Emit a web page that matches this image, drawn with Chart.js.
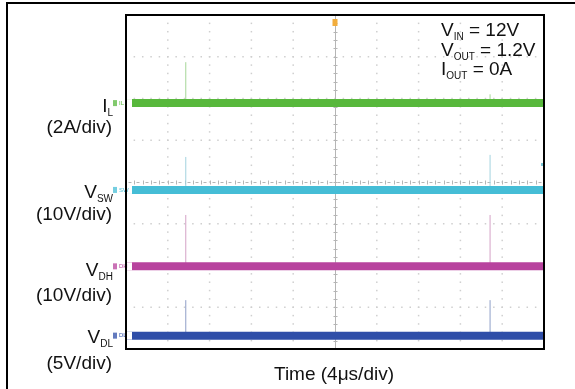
<!DOCTYPE html>
<html><head><meta charset="utf-8">
<script src="https://cdn.jsdelivr.net/npm/chart.js@4"></script>
<style>
html,body{margin:0;padding:0;background:#fff;}
#wrap{position:relative;width:575px;height:389px;overflow:hidden;font-family:"Liberation Sans",Arial,sans-serif;color:#111;}
#frameL{position:absolute;left:6px;top:2px;width:2px;height:400px;background:#000}
#frameT{position:absolute;left:6px;top:2px;width:580px;height:2px;background:#000}
canvas{position:absolute;left:0;top:0}
.lab{position:absolute;font-size:19px;line-height:19px;white-space:nowrap}
.r{text-align:right;right:462px}
.sub{font-size:10px;position:relative;top:4px}
</style></head>
<body>
<div id="wrap">
<canvas id="c" width="575" height="389"></canvas>
<div id="frameL"></div><div id="frameT"></div>
<div class="lab r" style="top:96px">I<span class="sub">L</span></div>
<div class="lab r" style="top:117px;right:463px">(2A/div)</div>
<div class="lab r" style="top:182px">V<span class="sub">SW</span></div>
<div class="lab r" style="top:204px;right:463px">(10V/div)</div>
<div class="lab r" style="top:260px">V<span class="sub">DH</span></div>
<div class="lab r" style="top:285px;right:463px">(10V/div)</div>
<div class="lab r" style="top:327px">V<span class="sub">DL</span></div>
<div class="lab r" style="top:353px;right:463px">(5V/div)</div>
<div class="lab" style="top:20px;left:441px">V<span class="sub">IN</span> = 12V</div>
<div class="lab" style="top:40px;left:441px">V<span class="sub">OUT</span> = 1.2V</div>
<div class="lab" style="top:59px;left:441px">I<span class="sub">OUT</span> = 0A</div>
<div class="lab" style="top:364px;left:334px;transform:translateX(-50%)">Time (4μs/div)</div>
</div>
<script>
// Time axis: 10 divisions; vertical: 8 divisions
const timeRange = [0, 10];
const divRange = [0, 8];
const channelTags = ['1 IL', '2 SW', '3 DH', '4 DL'];
const traceLevels = [5.89, 3.81, 1.98, 0.32];     // baseline level of each trace (div)
const spikeTimes = [1.43, 8.71];                   // time of switching spikes (div)
const spikeTopsIL = [6.87, 6.10];
const spikeTopsSW = [4.60, 4.65];
const spikeTopsDH = [3.21, 3.21];
const spikeTopsDL = [1.17, 1.17];
const triggerTime = 5.0;

const traceColors = ['#58b83c', '#45bdd6', '#b8439e', '#2f4ea8'];
const spikeColors = ['#a6d698', '#a3d3df', '#d4a2c6', '#8f9fc8'];
const allSpikeTops = [spikeTopsIL, spikeTopsSW, spikeTopsDH, spikeTopsDL];

const datasets = [];
traceLevels.forEach((lv, i) => {
  const pts = [];
  spikeTimes.forEach((t, k) => {
    pts.push({x: t, y: lv}, {x: t, y: allSpikeTops[i][k]}, {x: t, y: null});
  });
  datasets.push({data: pts, showLine: true, borderColor: spikeColors[i], borderWidth: 1,
    pointRadius: 0, spanGaps: false, order: 2});
});
traceLevels.forEach((lv, i) => {
  datasets.push({data: [{x: timeRange[0], y: lv}, {x: timeRange[1], y: lv}], showLine: true,
    borderColor: traceColors[i], borderWidth: 8, pointRadius: 0, order: 1});
});

const scopePlugin = {
  id: 'scope',
  beforeDatasetsDraw(chart) {
    const {ctx, chartArea: a, scales: {x, y}} = chart;
    ctx.save();
    ctx.fillStyle = '#cfcfcf';
    // dotted grid lines
    for (let i = 1; i < 10; i++) {
      if (i === 5) continue;
      const px = x.getPixelForValue(i);
      for (let j = 0; j <= 40; j++) {
        const py = y.getPixelForValue(j / 5);
        ctx.fillRect(px - 0.75, py - 0.75, 1.5, 1.5);
      }
    }
    for (let j = 1; j < 8; j++) {
      if (j === 4) continue;
      const py = y.getPixelForValue(j);
      for (let i = 0; i <= 50; i++) {
        const px = x.getPixelForValue(i / 5);
        ctx.fillRect(px - 0.75, py - 0.75, 1.5, 1.5);
      }
    }
    // center crosshair with minor ticks
    ctx.strokeStyle = '#b5b5b5';
    ctx.lineWidth = 1;
    const cx = Math.round(x.getPixelForValue(5)) + 0.5;
    const cy = Math.round(y.getPixelForValue(4)) + 0.5;
    ctx.beginPath();
    ctx.moveTo(cx, a.top); ctx.lineTo(cx, a.bottom);
    ctx.stroke();
    ctx.beginPath();
    for (let i = 0; i <= 50; i++) {
      const px = Math.round(x.getPixelForValue(i / 5)) + 0.5;
      ctx.moveTo(px, cy - 2); ctx.lineTo(px, cy + 2);
      if (i < 50) { ctx.moveTo(px + 2, cy); ctx.lineTo(px + 5, cy); }
    }
    for (let j = 0; j <= 40; j++) {
      const py = Math.round(y.getPixelForValue(j / 5)) + 0.5;
      ctx.moveTo(cx - 2, py); ctx.lineTo(cx + 2, py);
    }
    ctx.stroke();
    ctx.restore();
  },
  afterDatasetsDraw(chart) {
    const {ctx, chartArea: a, scales: {x, y}} = chart;
    ctx.save();
    // channel tags
    ctx.font = '6px "Liberation Sans", Arial';
    ctx.textBaseline = 'middle';
    traceLevels.forEach((lv, i) => {
      const py = y.getPixelForValue(lv);
      ctx.fillStyle = '#ffffff';
      ctx.fillRect(113, py - 4, 19, 8);
      ctx.fillStyle = traceColors[i];
      ctx.globalAlpha = 0.75;
      ctx.fillRect(113, py - 3, 4, 6);
      ctx.globalAlpha = 1;
      ctx.fillText(channelTags[i].split(' ')[1], 119, py);
    });
    // trigger marker
    const tx = x.getPixelForValue(triggerTime);
    ctx.fillStyle = '#f2ad3c';
    ctx.fillRect(tx - 2.5, a.top + 4, 5, 7);
    // right edge marker
    ctx.fillStyle = '#7cc8d8';
    ctx.fillRect(a.right - 3, 163, 2, 3);
    // plot frame
    ctx.strokeStyle = '#000';
    ctx.lineWidth = 2;
    ctx.strokeRect(a.left, a.top, a.right - a.left, a.bottom - a.top);
    ctx.restore();
  }
};

new Chart(document.getElementById('c'), {
  type: 'scatter',
  data: {datasets},
  options: {
    responsive: false,
    animation: false,
    events: [],
    layout: {padding: {left: 126, right: 31, top: 15, bottom: 40}},
    plugins: {legend: {display: false}, tooltip: {enabled: false}, title: {display: false}},
    scales: {
      x: {type: 'linear', min: timeRange[0], max: timeRange[1], display: false},
      y: {type: 'linear', min: divRange[0], max: divRange[1], display: false}
    }
  },
  plugins: [scopePlugin]
});
</script>
</body></html>
